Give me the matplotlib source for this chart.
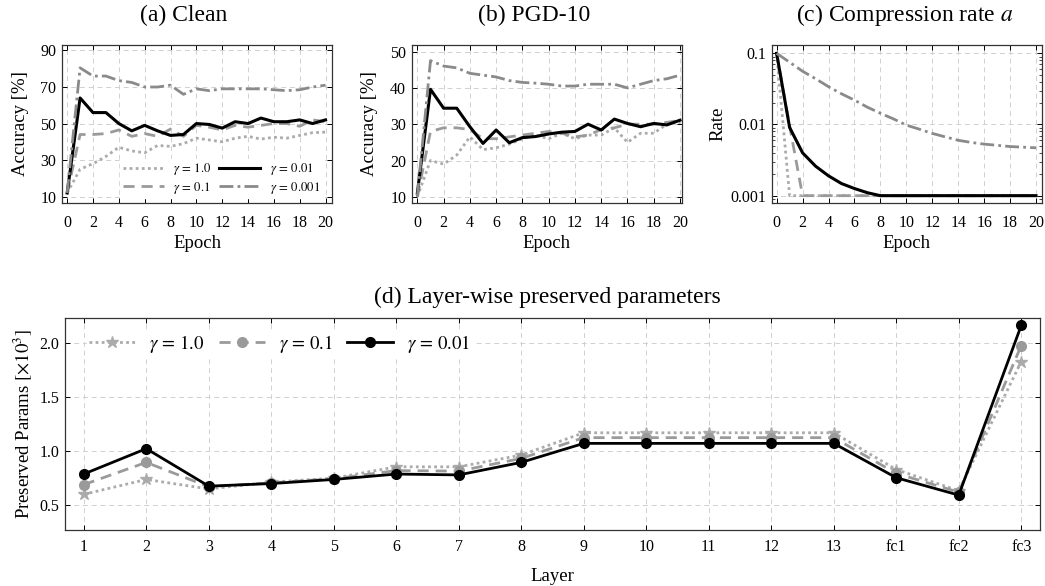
import matplotlib
matplotlib.use("Agg")
import matplotlib.pyplot as plt
import numpy as np

plt.rcParams['font.family'] = ['Liberation Serif', 'DejaVu Serif']
plt.rcParams['mathtext.fontset'] = 'stix'

epochs = list(range(21))

# (a) Clean accuracy
clean_g1 = [12, 25, 28, 32, 37, 35, 34, 38, 37.5, 39, 42, 41, 40, 42, 43, 41.5, 42.5, 42, 43.5, 45, 45.3]
clean_g01 = [12, 44, 44, 44.5, 46.5, 43, 44.5, 43, 47, 43, 49, 48, 46.5, 49, 48, 49, 50, 50, 48.5, 52, 51]
clean_g001 = [12, 64, 56, 56, 50, 46, 49, 46, 43.5, 44, 50, 49.5, 47.5, 51, 50, 53, 51, 51, 52, 50, 52]
clean_g0001 = [12, 80.5, 76, 76, 73.5, 72.5, 70, 70, 71, 66, 69, 68, 69, 69, 69, 69, 68.5, 68, 68.5, 70, 71]

# (b) PGD-10 accuracy
pgd_g1 = [10, 20, 19, 21.5, 26.5, 23, 23.5, 24.5, 26, 27, 26, 27.5, 26, 27, 27, 29, 25, 27.5, 27.5, 30, 30.5]
pgd_g01 = [10, 28, 29, 29, 28.5, 26, 26, 26.5, 27, 27.5, 28, 27.5, 26.5, 27, 28.5, 29, 30, 30, 30, 30.5, 31]
pgd_g001 = [11, 39.6, 34.4, 34.4, 29.3, 24.7, 28.4, 24.9, 26.3, 26.6, 27.3, 27.8, 28, 30, 28.4, 31.4, 30.2, 29.3, 30.2, 29.8, 31.1]
pgd_g0001 = [10, 47.5, 46, 45.5, 44, 43.5, 43, 42, 41.5, 41.3, 41, 40.5, 40.5, 41, 41, 41, 40, 41, 42, 42.5, 43.5]

# (c) Compression rate
rate_g1 = [0.1] + [0.001] * 20
rate_g01 = [0.1, 0.0096] + [0.001] * 19
rate_g001 = [0.1, 0.0091, 0.004, 0.0026, 0.0019, 0.00148, 0.00126, 0.0011] + [0.001] * 13
rate_g0001 = [0.1, 0.075, 0.056, 0.044, 0.034, 0.027, 0.022, 0.0175, 0.0144, 0.012, 0.0098,
              0.0086, 0.0075, 0.0067, 0.006, 0.0056, 0.0053, 0.0051, 0.0049, 0.0048, 0.0047]

# (d) Layer-wise preserved parameters (x10^3)
layers = ['1', '2', '3', '4', '5', '6', '7', '8', '9', '10', '11', '12', '13', 'fc1', 'fc2', 'fc3']
params_g1 = [0.60, 0.738, 0.65, 0.713, 0.75, 0.855, 0.855, 0.964, 1.17, 1.17, 1.17, 1.17, 1.17, 0.83, 0.633, 1.83]
params_g01 = [0.69, 0.896, 0.67, 0.707, 0.744, 0.82, 0.815, 0.933, 1.125, 1.125, 1.125, 1.125, 1.125, 0.794, 0.62, 1.978]
params_g001 = [0.788, 1.023, 0.676, 0.70, 0.738, 0.788, 0.78, 0.896, 1.072, 1.072, 1.072, 1.072, 1.072, 0.754, 0.593, 2.164]

labels4 = [r'$\gamma\,=\,1.0$', r'$\gamma\,=\,0.1$', r'$\gamma\,=\,0.01$', r'$\gamma\,=\,0.001$']
c_dot, c_dash, c_dd = '#ababab', '#9a9a9a', '#8a8a8a'
styles = [dict(color=c_dot, ls=(0, (1, 1.2)), lw=2.0),
          dict(color=c_dash, ls=(0, (4, 2.5)), lw=2.0),
          dict(color='black', ls='-', lw=2.2),
          dict(color=c_dd, ls=(0, (5, 1.5, 1, 1.5)), lw=2.0)]

TICK_FS = 11.5
LAB_FS = 13.5
TITLE_FS = 17

fig = plt.figure(figsize=(10.45, 5.86), dpi=100)
W, H = 1045, 586

def add_ax(l, r, t, b):
    return fig.add_axes([l / W, 1 - b / H, (r - l) / W, (b - t) / H])

def style_ax(ax, xpad=8.5):
    ax.tick_params(direction='in', top=True, right=True, labelsize=TICK_FS, length=3.5, width=0.7, pad=4)
    ax.tick_params(axis='x', pad=xpad)
    ax.tick_params(which='minor', direction='in', top=True, right=True, length=2, width=0.5)
    ax.grid(True, which='major', color='#d0d0d0', ls=(0, (5, 4)), lw=0.7)
    ax.set_axisbelow(True)
    for s in ax.spines.values():
        s.set_linewidth(0.9)
        s.set_color('#333333')

ax_a = add_ax(62, 332, 45, 203)
ax_b = add_ax(411.7, 681.7, 45, 203)
ax_c = add_ax(771.7, 1041.7, 45, 203)
ax_d = add_ax(65, 1040, 318.3, 530)

# (a)
for y, st, lab in zip([clean_g1, clean_g01, clean_g001, clean_g0001], styles, labels4):
    ax_a.plot(epochs, y, label=lab, **st)
ax_a.set_xlim(-0.4, 20.5)
ax_a.set_ylim(6.5, 93)
ax_a.set_yticks([10, 30, 50, 70, 90])
ax_a.set_xticks(range(0, 21, 2))
ax_a.set_ylabel('Accuracy [%]', fontsize=LAB_FS, labelpad=8)
ax_a.set_xlabel('Epoch', fontsize=LAB_FS, labelpad=3)
style_ax(ax_a)
ax_a.legend(ncol=2, loc='lower right', bbox_to_anchor=(0.965, 0.03), fontsize=9.2, frameon=True,
            framealpha=1, edgecolor='white', handlelength=3.2, columnspacing=0.6, handletextpad=0.75,
            labelspacing=0.2, borderpad=0.2, borderaxespad=0.0, fancybox=False)

# (b)
for y, st in zip([pgd_g1, pgd_g01, pgd_g001, pgd_g0001], styles):
    ax_b.plot(epochs, y, **st)
ax_b.set_xlim(-0.43, 20.13)
ax_b.set_ylim(8.3, 51.8)
ax_b.set_yticks([10, 20, 30, 40, 50])
ax_b.set_xticks(range(0, 21, 2))
ax_b.set_ylabel('Accuracy [%]', fontsize=LAB_FS, labelpad=8.5)
ax_b.set_xlabel('Epoch', fontsize=LAB_FS, labelpad=3)
style_ax(ax_b)

# (c)
for y, st in zip([rate_g1, rate_g01, rate_g001, rate_g0001], styles):
    ax_c.plot(epochs, y, **st)
ax_c.set_yscale('log')
ax_c.set_xlim(-0.38, 20.44)
ax_c.set_ylim(10 ** -3.103, 10 ** -0.883)
ax_c.set_yticks([0.001, 0.01, 0.1])
ax_c.set_yticklabels(['0.001', '0.01', '0.1'])
ax_c.set_xticks(range(0, 21, 2))
ax_c.set_ylabel('Rate', fontsize=LAB_FS, labelpad=3)
ax_c.set_xlabel('Epoch', fontsize=LAB_FS, labelpad=3)
style_ax(ax_c)

# (d)
x = np.arange(len(layers))
ax_d.plot(x, params_g1, color=c_dot, ls=(0, (1, 1.2)), lw=2.0, marker='*', ms=9, label=labels4[0])
ax_d.plot(x, params_g01, color=c_dash, ls=(0, (4, 2.5)), lw=2.0, marker='o', ms=7, label=labels4[1])
ax_d.plot(x, params_g001, color='black', ls='-', lw=2.0, marker='o', ms=7, label=labels4[2])
ax_d.set_xlim(-0.3, len(layers) - 0.7)
ax_d.set_ylim(0.27, 2.23)
ax_d.set_yticks([0.5, 1.0, 1.5, 2.0])
ax_d.set_yticklabels(['0.5', '1.0', '1.5', '2.0'])
ax_d.set_xticks(x)
ax_d.set_xticklabels(layers)
ax_d.set_ylabel(r'Preserved Params $[\times 10^3]$', fontsize=LAB_FS, labelpad=4)
ax_d.set_xlabel('Layer', fontsize=LAB_FS, labelpad=9.5)
style_ax(ax_d, xpad=6.5)
ax_d.legend(ncol=3, loc='upper left', bbox_to_anchor=(0.013, 0.985), fontsize=13.5, frameon=True,
            framealpha=1, edgecolor='white', handlelength=2.5, columnspacing=0.75, handletextpad=0.7,
            borderpad=0.1, fancybox=False)

# titles
fig.text(184 / W, 1 - 15 / H, '(a) Clean', ha='center', va='center', fontsize=TITLE_FS)
fig.text(534 / W, 1 - 15 / H, '(b) PGD-10', ha='center', va='center', fontsize=TITLE_FS)
fig.text(905 / W, 1 - 15 / H, r'(c) Compression rate $a$', ha='center', va='center', fontsize=TITLE_FS)
fig.text(547 / W, 1 - 297 / H, '(d) Layer-wise preserved parameters', ha='center', va='center', fontsize=TITLE_FS)

fig.savefig('out.png', dpi=100)
